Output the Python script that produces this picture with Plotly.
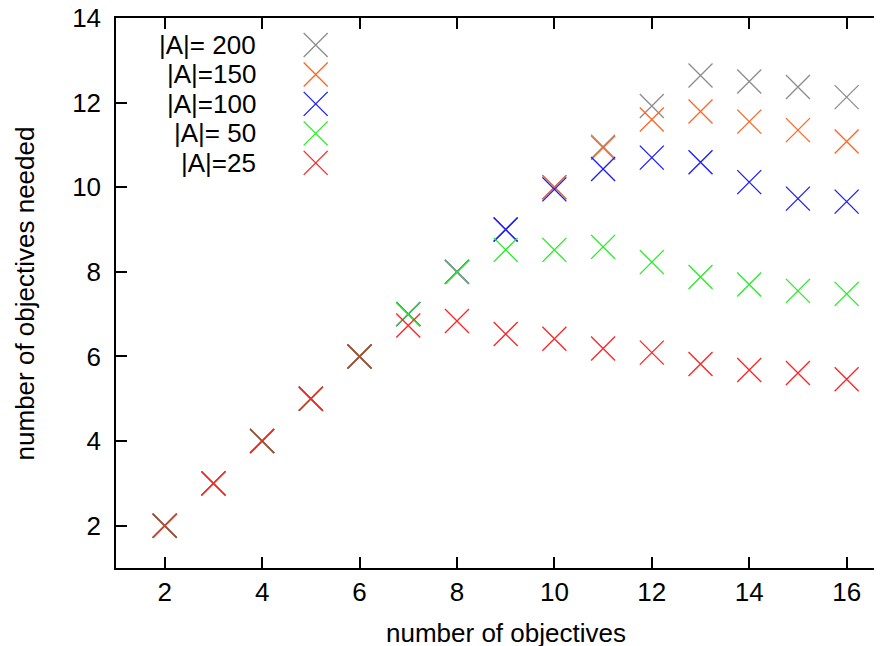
import plotly.graph_objects as go

x_objectives = list(range(2, 17))

series_names = ["|A|= 200", "|A|=150", "|A|=100", "|A|= 50", "|A|=25"]
series_colors = ["#8c8c8c", "#ff6422", "#1a1aff", "#22ee22", "#ff2222"]

a200 = [2, 3, 4, 5, 6, 7, 8, 9, 10.0, 10.96, 11.92, 12.64, 12.50, 12.37, 12.13]
a150 = [2, 3, 4, 5, 6, 7, 8, 9, 10.0, 10.93, 11.60, 11.79, 11.55, 11.35, 11.08]
a100 = [2, 3, 4, 5, 6, 7, 8, 9, 9.95, 10.43, 10.70, 10.59, 10.12, 9.73, 9.66]
a50 = [2, 3, 4, 5, 6, 7, 8, 8.52, 8.52, 8.59, 8.23, 7.88, 7.70, 7.55, 7.48]
a25 = [2, 3, 4, 5, 6, 6.73, 6.84, 6.53, 6.42, 6.19, 6.09, 5.82, 5.68, 5.61, 5.46]

series_values = [a200, a150, a100, a50, a25]

x_ticks = [2, 4, 6, 8, 10, 12, 14, 16]
y_ticks = [2, 4, 6, 8, 10, 12, 14]

FONT = "Liberation Sans, Arial, sans-serif"
FS = 26
MARKER_SIZE = 24

fig = go.Figure()

for name, color, vals in zip(series_names, series_colors, series_values):
    fig.add_trace(go.Scatter(
        x=x_objectives, y=vals, mode="markers", name=name,
        marker=dict(symbol="x-thin", size=MARKER_SIZE,
                    line=dict(color=color, width=1.3)),
        showlegend=False, hoverinfo="x+y",
    ))

# manual gnuplot-style legend (text right-aligned, key sample on right)
leg_top = 0.951
leg_step = 0.0536
leg_key_x = 0.258
leg_text_x = 0.183
for i, (name, color) in enumerate(zip(series_names, series_colors)):
    yy = leg_top - i * leg_step
    fig.add_trace(go.Scatter(
        x=[leg_key_x], y=[yy], mode="markers", xaxis="x2", yaxis="y2",
        marker=dict(symbol="x-thin", size=MARKER_SIZE,
                    line=dict(color=color, width=1.3)),
        showlegend=False, hoverinfo="skip",
    ))
    fig.add_annotation(x=leg_text_x, y=yy, xref="paper", yref="paper",
                       text=name, showarrow=False, xanchor="right",
                       yanchor="middle", font=dict(family=FONT, size=FS, color="black"))

axis_common = dict(
    showgrid=False, zeroline=False, showline=True, linecolor="black",
    linewidth=1.5, ticks="inside", ticklen=11, tickwidth=1.5, tickcolor="black",
    tickfont=dict(family=FONT, size=FS, color="black"),
    ticklabeloverflow="allow", automargin=False,
)

fig.update_layout(
    width=882, height=646,
    margin=dict(l=108, r=0, t=10, b=86),
    paper_bgcolor="white", plot_bgcolor="white",
    font=dict(family=FONT, size=FS, color="black"),
    xaxis=dict(range=[1, 16.89], tickvals=x_ticks, mirror="ticks", **axis_common),
    yaxis=dict(range=[1, 14], tickvals=y_ticks, mirror=False,
               ticklabelstandoff=8, **axis_common),
    xaxis2=dict(range=[0, 1], overlaying="x", visible=False),
    yaxis2=dict(range=[0, 1], overlaying="y", visible=False),
    showlegend=False,
)

fig.add_annotation(x=9, y=-0.119, xref="x", yref="paper",
                   text="number of objectives", showarrow=False,
                   xanchor="center", yanchor="middle",
                   font=dict(family=FONT, size=FS, color="black"))
fig.add_annotation(x=-0.117, y=0.5, xref="paper", yref="paper",
                   text="number of objectives needed", showarrow=False,
                   textangle=-90, xanchor="center", yanchor="middle",
                   font=dict(family=FONT, size=FS, color="black"))

fig.write_html("out.html")
